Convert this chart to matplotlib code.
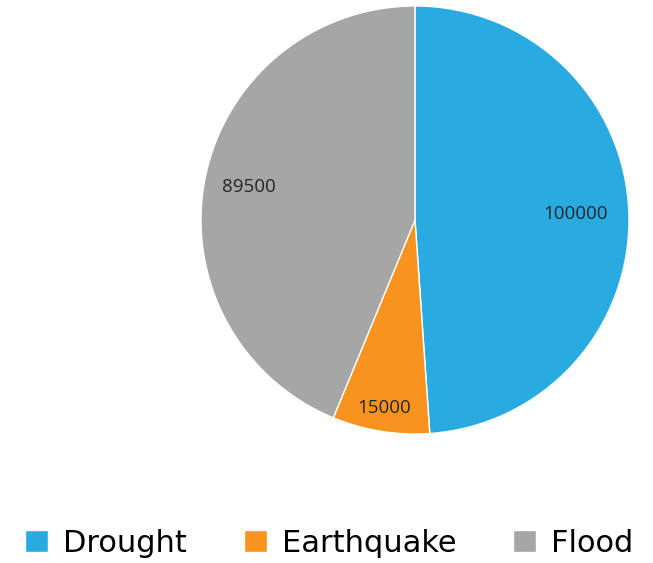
import numpy as np
import matplotlib.pyplot as plt

categories = ['Drought', 'Earthquake', 'Flood']
values = [100000, 15000, 89500]
colors = ['#29ABE2', '#F7931E', '#A6A6A6']
label_radius = [0.75, 0.89, 0.79]

fig = plt.figure(figsize=(6.53, 5.63), dpi=100)
ax = fig.add_axes([201/653, 129/563, 428/653, 428/563])
wedges, _ = ax.pie(values, colors=colors, startangle=90, counterclock=False,
                   wedgeprops=dict(edgecolor='white', linewidth=1))
ax.set_aspect('equal')
ax.set_xlim(-1, 1); ax.set_ylim(-1, 1)

for w, v, r in zip(wedges, values, label_radius):
    a = np.deg2rad((w.theta1 + w.theta2) / 2)
    ax.text(r*np.cos(a), r*np.sin(a), str(v), ha='center', va='center',
            fontsize=13.5, color='#262626', family='Open Sans')

leg = fig.legend(wedges, categories, loc='center left', bbox_to_anchor=(25/653, 20/563),
                 ncol=3, frameon=False, fontsize=22, handlelength=0.75, handleheight=0.75,
                 columnspacing=1.85, handletextpad=0.5, borderaxespad=0, borderpad=0)
fig.savefig('out.png', dpi=100)
